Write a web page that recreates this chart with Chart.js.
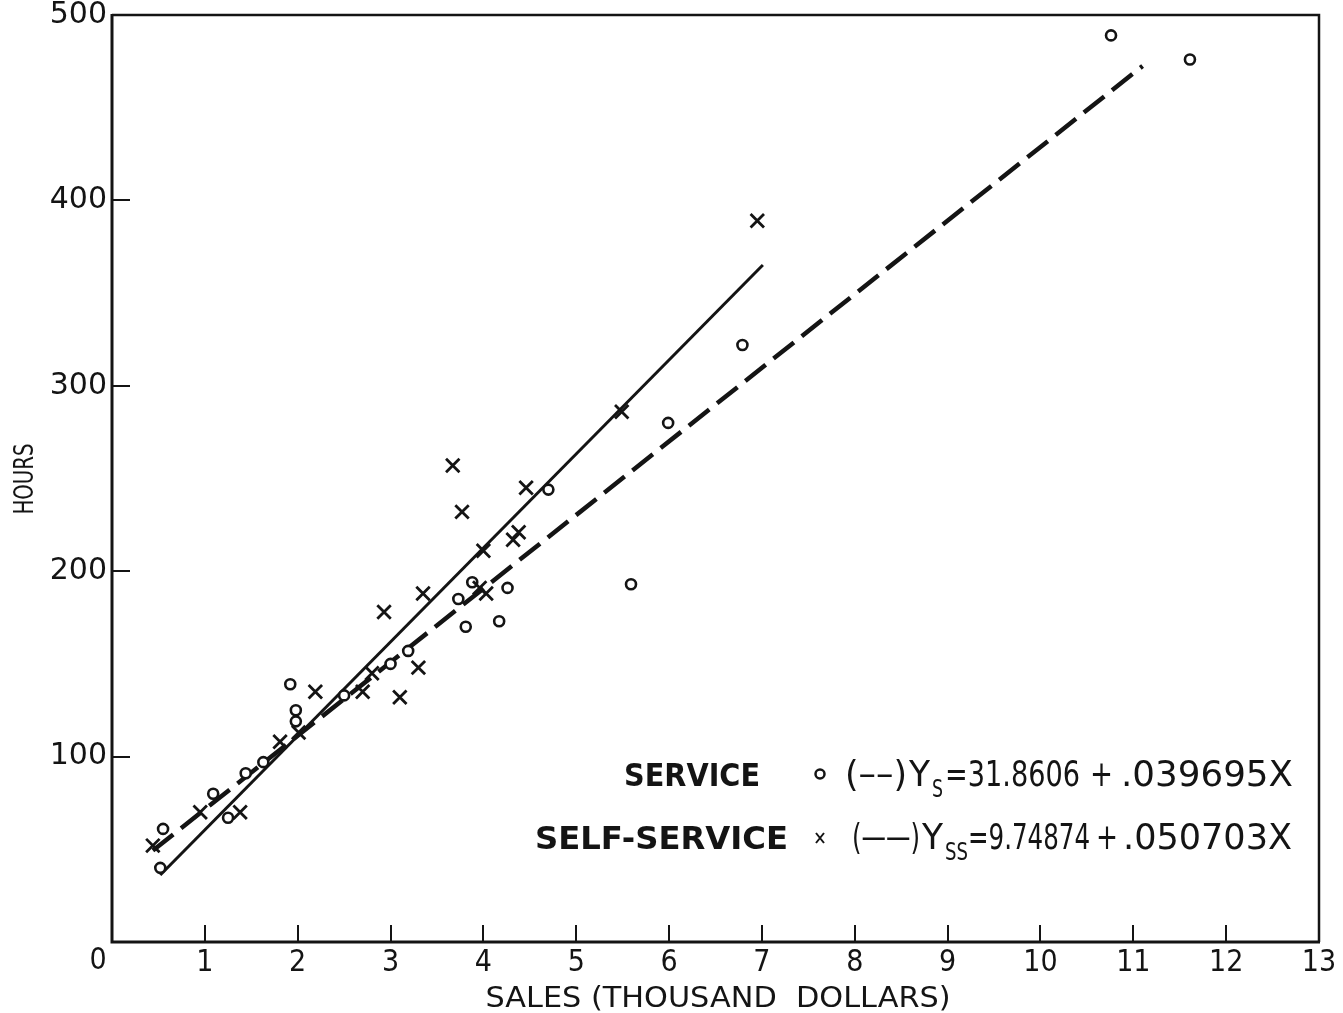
<!DOCTYPE html>
<html>
<head>
<meta charset="utf-8">
<title>Hours vs. Sales</title>
<script src="https://cdn.jsdelivr.net/npm/chart.js@4/dist/chart.umd.min.js"></script>
<style>
  html, body { margin: 0; padding: 0; background: #fff; }
  #wrap { width: 1343px; height: 1013px; position: relative; }
</style>
</head>
<body>
<div id="wrap"><canvas id="c" width="1343" height="1013"></canvas></div>
<script>
// Service stores: sales (thousand dollars) and hours
const serviceSales = [0.52, 0.55, 1.09, 1.25, 1.44, 1.63, 1.92, 1.98, 1.98, 2.50, 3.00, 3.19,
                      3.73, 3.81, 3.88, 4.17, 4.26, 4.70, 5.59, 5.99, 6.79, 10.76, 11.61];
const serviceHours = [40, 61, 80, 67, 91, 97, 139, 125, 119, 133, 150, 157,
                      185, 170, 194, 173, 191, 244, 193, 280, 322, 489, 476];

// Self-service stores
const selfSales = [0.44, 0.95, 1.38, 1.81, 2.01, 2.19, 2.70, 2.80, 3.10, 3.30, 2.93,
                   3.35, 3.67, 3.77, 4.00, 3.96, 4.03, 4.46, 4.32, 4.38, 5.49, 6.95];
const selfHours  = [52, 70, 70, 108, 113, 135, 135, 145, 132, 148, 178,
                    188, 257, 232, 211, 191, 188, 245, 217, 221, 286, 389];

// Fitted regressions: hours = intercept + slope * sales (dollars)
const serviceFit = { intercept: 31.8606, slope: 0.039695 };
const selfFit    = { intercept: 9.74874, slope: 0.050703 };
// Sales span (thousand dollars) over which each fitted line is drawn
const serviceFitSpan = [0.44, 11.1];
const selfFitSpan    = [0.52, 7.01];

// Axis ticks and titles
const xTicks = [0, 1, 2, 3, 4, 5, 6, 7, 8, 9, 10, 11, 12, 13];
const yTicks = [0, 100, 200, 300, 400, 500];
const xTitle = 'SALES (THOUSAND  DOLLARS)';
const yTitle = 'HOURS';

const toPoints = (xs, ys) => xs.map((x, i) => ({ x: x, y: ys[i] }));
const fitLine = (fit, span) => span.map(s => ({ x: s, y: fit.intercept + fit.slope * s * 1000 }));

const COND = "'DejaVu Sans Condensed', 'Liberation Sans Narrow', 'DejaVu Sans', sans-serif";
const INK = '#141414';

// Draw text stretched horizontally to occupy [x0, x1]
function fitText(ctx, text, x0, x1, baseline, font) {
  ctx.save();
  ctx.font = font;
  ctx.textAlign = 'left';
  ctx.textBaseline = 'alphabetic';
  const w = ctx.measureText(text).width;
  ctx.translate(x0, baseline);
  ctx.scale((x1 - x0) / w, 1);
  ctx.fillStyle = INK;
  ctx.fillText(text, 0, 0);
  ctx.restore();
}

// Frame, inward tick marks, axis titles, origin label and the key
const decorations = {
  id: 'decorations',
  beforeDatasetsDraw(chart) {
    const { ctx, chartArea: a, scales: { x, y } } = chart;
    ctx.save();
    ctx.strokeStyle = INK;
    ctx.lineCap = 'butt';
    // top and right edges
    ctx.lineWidth = 2.5;
    ctx.beginPath();
    ctx.moveTo(a.left, a.top); ctx.lineTo(a.right, a.top); ctx.lineTo(a.right, a.bottom);
    ctx.stroke();
    // axes
    ctx.lineWidth = 3;
    ctx.beginPath();
    ctx.moveTo(a.left, a.top - 1); ctx.lineTo(a.left, a.bottom); ctx.lineTo(a.right + 1, a.bottom);
    ctx.stroke();
    // tick marks pointing into the plot
    ctx.lineWidth = 2;
    ctx.beginPath();
    xTicks.forEach(v => {
      if (v === xTicks[0] || v === xTicks[xTicks.length - 1]) return;
      const px = Math.round(x.getPixelForValue(v));
      ctx.moveTo(px, a.bottom); ctx.lineTo(px, a.bottom - 17);
    });
    yTicks.forEach(v => {
      if (v === yTicks[0] || v === yTicks[yTicks.length - 1]) return;
      const py = Math.round(y.getPixelForValue(v));
      ctx.moveTo(a.left, py); ctx.lineTo(a.left + 18, py);
    });
    ctx.stroke();
    // shared origin label
    ctx.fillStyle = INK;
    ctx.font = '30px ' + COND;
    ctx.textAlign = 'center';
    ctx.textBaseline = 'middle';
    ctx.fillText('0', x.getPixelForValue(0) - 14, a.bottom + 19);
    ctx.restore();

    // axis titles in narrow lettering
    const midX = (a.left + a.right) / 2;
    fitText(ctx, xTitle, midX - 230, midX + 235, 1007, '28px ' + COND);
    ctx.save();
    ctx.translate(33, (a.top + a.bottom) / 2);
    ctx.rotate(-Math.PI / 2);
    fitText(ctx, yTitle, -36, 35, 0, '27px ' + COND);
    ctx.restore();
  },
  afterDatasetsDraw(chart) {
    const { ctx } = chart;
    const bold = 'bold 32px ' + COND;
    const big = '36px ' + COND;
    const sub = '24px ' + COND;
    // Service row
    fitText(ctx, 'SERVICE', 624, 760, 786, bold);
    ctx.save();
    ctx.strokeStyle = INK; ctx.lineWidth = 2.5; ctx.fillStyle = '#fff';
    ctx.beginPath(); ctx.arc(820, 774, 4.5, 0, Math.PI * 2); ctx.fill(); ctx.stroke();
    ctx.restore();
    fitText(ctx, '(\u2013\u2013)', 845, 907, 786, big);
    fitText(ctx, 'Y', 909, 930, 786, big);
    fitText(ctx, 'S', 932, 943, 797, sub);
    fitText(ctx, '=31.8606', 945, 1080, 786, big);
    fitText(ctx, '+', 1090, 1113, 786, big);
    fitText(ctx, '.039695X', 1121, 1293, 786, big);
    // Self-service row
    fitText(ctx, 'SELF-SERVICE', 535, 788, 849, bold);
    ctx.save();
    ctx.strokeStyle = INK; ctx.lineWidth = 2;
    ctx.beginPath();
    ctx.moveTo(816, 833); ctx.lineTo(824, 843);
    ctx.moveTo(824, 833); ctx.lineTo(816, 843);
    ctx.stroke();
    ctx.restore();
    fitText(ctx, '(\u2014\u2014)', 852, 920, 849, big);
    fitText(ctx, 'Y', 922, 943, 849, big);
    fitText(ctx, 'SS', 945, 968, 860, sub);
    fitText(ctx, '=9.74874', 968, 1090, 849, big);
    fitText(ctx, '+', 1096, 1118, 849, big);
    fitText(ctx, '.050703X', 1123, 1292, 849, big);
  }
};

new Chart(document.getElementById('c'), {
  type: 'scatter',
  data: {
    datasets: [
      {
        label: 'Service fit',
        data: fitLine(serviceFit, serviceFitSpan),
        showLine: true,
        borderColor: INK,
        borderWidth: 4.5,
        borderDash: [26, 10],
        pointRadius: 0,
        order: 3
      },
      {
        label: 'Self-service fit',
        data: fitLine(selfFit, selfFitSpan),
        showLine: true,
        borderColor: INK,
        borderWidth: 3,
        pointRadius: 0,
        order: 2
      },
      {
        label: 'Service',
        data: toPoints(serviceSales, serviceHours),
        pointStyle: 'circle',
        pointRadius: 5,
        pointBorderWidth: 2.6,
        pointBorderColor: INK,
        pointBackgroundColor: '#fff',
        order: 1
      },
      {
        label: 'Self-service',
        data: toPoints(selfSales, selfHours),
        pointStyle: 'crossRot',
        pointRadius: 9.5,
        pointBorderWidth: 2.8,
        pointBorderColor: INK,
        order: 0
      }
    ]
  },
  options: {
    responsive: false,
    animation: false,
    devicePixelRatio: 1,
    layout: { padding: { left: 0, right: 24, top: 15, bottom: 0 } },
    plugins: { legend: { display: false }, tooltip: { enabled: false } },
    scales: {
      x: {
        type: 'linear',
        min: xTicks[0],
        max: xTicks[xTicks.length - 1],
        afterBuildTicks: s => { s.ticks = xTicks.map(v => ({ value: v })); },
        afterFit: s => { s.height = 71; s.paddingLeft = 0; s.paddingRight = 0; },
        grid: { display: false, drawTicks: false },
        border: { display: false },
        ticks: {
          color: INK,
          font: { family: COND, size: 30 },
          padding: 3,
          maxRotation: 0,
          autoSkip: false,
          callback: v => (v === 0 ? '' : String(v))
        },
        title: { display: false }
      },
      y: {
        type: 'linear',
        min: yTicks[0],
        max: yTicks[yTicks.length - 1],
        afterBuildTicks: s => { s.ticks = yTicks.map(v => ({ value: v })); },
        afterFit: s => { s.width = 112; s.paddingTop = 0; s.paddingBottom = 0; },
        grid: { display: false, drawTicks: false },
        border: { display: false },
        ticks: {
          color: INK,
          font: { family: "'DejaVu Sans', sans-serif", size: 30 },
          padding: 5,
          callback: v => (v === 0 ? '' : String(v))
        },
        title: { display: false }
      }
    }
  },
  plugins: [decorations]
});
</script>
</body>
</html>
